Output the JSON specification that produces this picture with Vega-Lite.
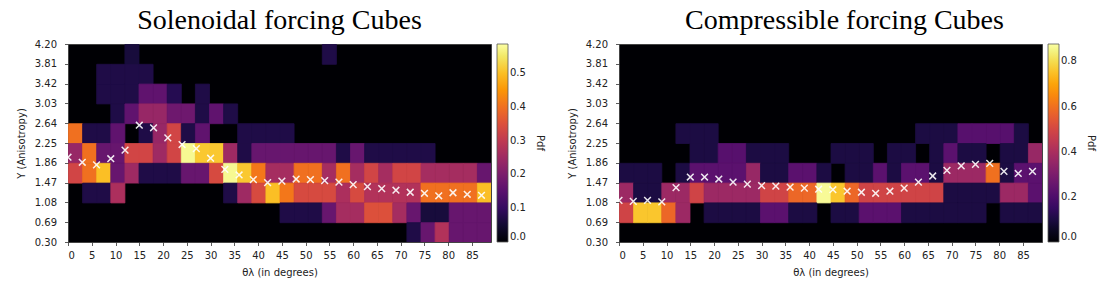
{
"$schema": "https://vega.github.io/schema/vega-lite/v6.json",
"background": "white",
"padding": {"left": 15, "top": 6, "right": 0, "bottom": 0},
"spacing": 20,
"config": {
  "view": {"fill": "#000004", "stroke": "#444", "strokeWidth": 1},
  "axis": {"labelFont": "DejaVu Sans", "labelFontSize": 10, "labelColor": "#222", "titleFont": "DejaVu Sans", "titleFontSize": 10, "titleFontWeight": "normal", "titleColor": "#222", "domain": false, "grid": false, "tickColor": "#333", "tickSize": 3.5, "tickWidth": 0.8},
  "axisX": {"labelPadding": 5, "titlePadding": 7, "labelAngle": 0},
  "axisY": {"labelPadding": 8, "titlePadding": 8},
  "legend": {"gradientLength": 198, "gradientThickness": 11, "offset": 6, "padding": 0, "labelFont": "DejaVu Sans", "labelFontSize": 10, "labelColor": "#222", "labelOffset": 9, "labelOverlap": false, "labelBaseline": "middle", "titleFont": "DejaVu Sans", "titleFontSize": 10, "titleFontWeight": "normal", "titleColor": "#222", "titleOrient": "right", "titleAngle": 270, "titleAnchor": "middle", "titlePadding": 9, "gradientStrokeColor": "#555", "gradientStrokeWidth": 0.8},
  "title": {"font": "Liberation Serif", "fontSize": 28, "fontWeight": "normal", "color": "#000", "anchor": "middle", "frame": "group", "offset": 4}
},
"resolve": {"scale": {"color": "independent", "stroke": "independent", "x": "independent", "y": "independent"}, "legend": {"color": "independent", "stroke": "independent"}},
"datasets": {
  "sol_cells": [
    {"t": 11.867, "y": 3.81, "pdf": 0.06}, {"t": 53.4, "y": 3.81, "pdf": 0.07},
    {"t": 5.933, "y": 3.42, "pdf": 0.07}, {"t": 8.9, "y": 3.42, "pdf": 0.07}, {"t": 11.867, "y": 3.42, "pdf": 0.07}, {"t": 14.833, "y": 3.42, "pdf": 0.07},
    {"t": 5.933, "y": 3.03, "pdf": 0.07}, {"t": 8.9, "y": 3.03, "pdf": 0.07}, {"t": 11.867, "y": 3.03, "pdf": 0.07}, {"t": 14.833, "y": 3.03, "pdf": 0.16}, {"t": 17.8, "y": 3.03, "pdf": 0.16}, {"t": 20.767, "y": 3.03, "pdf": 0.08}, {"t": 26.7, "y": 3.03, "pdf": 0.07},
    {"t": 8.9, "y": 2.64, "pdf": 0.07}, {"t": 11.867, "y": 2.64, "pdf": 0.16}, {"t": 14.833, "y": 2.64, "pdf": 0.24}, {"t": 17.8, "y": 2.64, "pdf": 0.24}, {"t": 20.767, "y": 2.64, "pdf": 0.18}, {"t": 23.733, "y": 2.64, "pdf": 0.18}, {"t": 26.7, "y": 2.64, "pdf": 0.07}, {"t": 29.667, "y": 2.64, "pdf": 0.16}, {"t": 32.633, "y": 2.64, "pdf": 0.07},
    {"t": 0, "y": 2.25, "pdf": 0.4}, {"t": 2.967, "y": 2.25, "pdf": 0.07}, {"t": 5.933, "y": 2.25, "pdf": 0.07}, {"t": 8.9, "y": 2.25, "pdf": 0.16}, {"t": 14.833, "y": 2.25, "pdf": 0.07}, {"t": 17.8, "y": 2.25, "pdf": 0.24}, {"t": 20.767, "y": 2.25, "pdf": 0.33}, {"t": 23.733, "y": 2.25, "pdf": 0.07}, {"t": 26.7, "y": 2.25, "pdf": 0.16}, {"t": 35.6, "y": 2.25, "pdf": 0.07}, {"t": 38.567, "y": 2.25, "pdf": 0.07}, {"t": 41.533, "y": 2.25, "pdf": 0.07}, {"t": 44.5, "y": 2.25, "pdf": 0.07},
    {"t": 0, "y": 1.86, "pdf": 0.24}, {"t": 2.967, "y": 1.86, "pdf": 0.4}, {"t": 5.933, "y": 1.86, "pdf": 0.17}, {"t": 8.9, "y": 1.86, "pdf": 0.17}, {"t": 11.867, "y": 1.86, "pdf": 0.33}, {"t": 14.833, "y": 1.86, "pdf": 0.33}, {"t": 17.8, "y": 1.86, "pdf": 0.25}, {"t": 20.767, "y": 1.86, "pdf": 0.33}, {"t": 23.733, "y": 1.86, "pdf": 0.575}, {"t": 26.7, "y": 1.86, "pdf": 0.51}, {"t": 29.667, "y": 1.86, "pdf": 0.51}, {"t": 32.633, "y": 1.86, "pdf": 0.25}, {"t": 35.6, "y": 1.86, "pdf": 0.07}, {"t": 38.567, "y": 1.86, "pdf": 0.17}, {"t": 41.533, "y": 1.86, "pdf": 0.17}, {"t": 44.5, "y": 1.86, "pdf": 0.17}, {"t": 47.467, "y": 1.86, "pdf": 0.17}, {"t": 50.433, "y": 1.86, "pdf": 0.17}, {"t": 53.4, "y": 1.86, "pdf": 0.17}, {"t": 56.367, "y": 1.86, "pdf": 0.07}, {"t": 59.333, "y": 1.86, "pdf": 0.17}, {"t": 62.3, "y": 1.86, "pdf": 0.07}, {"t": 65.267, "y": 1.86, "pdf": 0.07}, {"t": 68.233, "y": 1.86, "pdf": 0.07}, {"t": 71.2, "y": 1.86, "pdf": 0.07}, {"t": 74.167, "y": 1.86, "pdf": 0.07},
    {"t": 0, "y": 1.47, "pdf": 0.33}, {"t": 2.967, "y": 1.47, "pdf": 0.4}, {"t": 5.933, "y": 1.47, "pdf": 0.5}, {"t": 8.9, "y": 1.47, "pdf": 0.17}, {"t": 11.867, "y": 1.47, "pdf": 0.25}, {"t": 14.833, "y": 1.47, "pdf": 0.07}, {"t": 17.8, "y": 1.47, "pdf": 0.07}, {"t": 20.767, "y": 1.47, "pdf": 0.07}, {"t": 23.733, "y": 1.47, "pdf": 0.17}, {"t": 26.7, "y": 1.47, "pdf": 0.17}, {"t": 29.667, "y": 1.47, "pdf": 0.34}, {"t": 32.633, "y": 1.47, "pdf": 0.575}, {"t": 35.6, "y": 1.47, "pdf": 0.51}, {"t": 38.567, "y": 1.47, "pdf": 0.41}, {"t": 41.533, "y": 1.47, "pdf": 0.26}, {"t": 44.5, "y": 1.47, "pdf": 0.26}, {"t": 47.467, "y": 1.47, "pdf": 0.4}, {"t": 50.433, "y": 1.47, "pdf": 0.4}, {"t": 53.4, "y": 1.47, "pdf": 0.26}, {"t": 56.367, "y": 1.47, "pdf": 0.4}, {"t": 59.333, "y": 1.47, "pdf": 0.26}, {"t": 62.3, "y": 1.47, "pdf": 0.33}, {"t": 65.267, "y": 1.47, "pdf": 0.26}, {"t": 68.233, "y": 1.47, "pdf": 0.33}, {"t": 71.2, "y": 1.47, "pdf": 0.33}, {"t": 74.167, "y": 1.47, "pdf": 0.26}, {"t": 77.133, "y": 1.47, "pdf": 0.26}, {"t": 80.1, "y": 1.47, "pdf": 0.26}, {"t": 83.067, "y": 1.47, "pdf": 0.26}, {"t": 86.033, "y": 1.47, "pdf": 0.17},
    {"t": 2.967, "y": 1.08, "pdf": 0.07}, {"t": 5.933, "y": 1.08, "pdf": 0.07}, {"t": 8.9, "y": 1.08, "pdf": 0.27}, {"t": 32.633, "y": 1.08, "pdf": 0.07}, {"t": 35.6, "y": 1.08, "pdf": 0.25}, {"t": 38.567, "y": 1.08, "pdf": 0.34}, {"t": 41.533, "y": 1.08, "pdf": 0.5}, {"t": 44.5, "y": 1.08, "pdf": 0.41}, {"t": 47.467, "y": 1.08, "pdf": 0.34}, {"t": 50.433, "y": 1.08, "pdf": 0.34}, {"t": 53.4, "y": 1.08, "pdf": 0.34}, {"t": 56.367, "y": 1.08, "pdf": 0.27}, {"t": 59.333, "y": 1.08, "pdf": 0.34}, {"t": 62.3, "y": 1.08, "pdf": 0.28}, {"t": 65.267, "y": 1.08, "pdf": 0.28}, {"t": 68.233, "y": 1.08, "pdf": 0.28}, {"t": 71.2, "y": 1.08, "pdf": 0.28}, {"t": 74.167, "y": 1.08, "pdf": 0.4}, {"t": 77.133, "y": 1.08, "pdf": 0.4}, {"t": 80.1, "y": 1.08, "pdf": 0.4}, {"t": 83.067, "y": 1.08, "pdf": 0.4}, {"t": 86.033, "y": 1.08, "pdf": 0.5},
    {"t": 44.5, "y": 0.69, "pdf": 0.07}, {"t": 47.467, "y": 0.69, "pdf": 0.07}, {"t": 50.433, "y": 0.69, "pdf": 0.07}, {"t": 53.4, "y": 0.69, "pdf": 0.17}, {"t": 56.367, "y": 0.69, "pdf": 0.26}, {"t": 59.333, "y": 0.69, "pdf": 0.26}, {"t": 62.3, "y": 0.69, "pdf": 0.35}, {"t": 65.267, "y": 0.69, "pdf": 0.35}, {"t": 68.233, "y": 0.69, "pdf": 0.26}, {"t": 71.2, "y": 0.69, "pdf": 0.17}, {"t": 74.167, "y": 0.69, "pdf": 0.06}, {"t": 77.133, "y": 0.69, "pdf": 0.06}, {"t": 80.1, "y": 0.69, "pdf": 0.17}, {"t": 83.067, "y": 0.69, "pdf": 0.17}, {"t": 86.033, "y": 0.69, "pdf": 0.17},
    {"t": 71.2, "y": 0.3, "pdf": 0.07}, {"t": 74.167, "y": 0.3, "pdf": 0.17}, {"t": 77.133, "y": 0.3, "pdf": 0.28}, {"t": 80.1, "y": 0.3, "pdf": 0.17}, {"t": 83.067, "y": 0.3, "pdf": 0.17}, {"t": 86.033, "y": 0.3, "pdf": 0.17}
  ],
  "sol_mean": [
    {"theta": 0, "Y": 1.97}, {"theta": 3, "Y": 1.87}, {"theta": 6, "Y": 1.82}, {"theta": 9, "Y": 1.94}, {"theta": 12, "Y": 2.11}, {"theta": 15, "Y": 2.6}, {"theta": 18, "Y": 2.55}, {"theta": 21, "Y": 2.35}, {"theta": 24, "Y": 2.22}, {"theta": 27, "Y": 2.14}, {"theta": 30, "Y": 1.95}, {"theta": 33, "Y": 1.73}, {"theta": 36, "Y": 1.62}, {"theta": 39, "Y": 1.53}, {"theta": 42, "Y": 1.47}, {"theta": 45, "Y": 1.5}, {"theta": 48, "Y": 1.54}, {"theta": 51, "Y": 1.53}, {"theta": 54, "Y": 1.51}, {"theta": 57, "Y": 1.48}, {"theta": 60, "Y": 1.43}, {"theta": 63, "Y": 1.39}, {"theta": 66, "Y": 1.35}, {"theta": 69, "Y": 1.32}, {"theta": 72, "Y": 1.28}, {"theta": 75, "Y": 1.26}, {"theta": 78, "Y": 1.21}, {"theta": 81, "Y": 1.27}, {"theta": 84, "Y": 1.24}, {"theta": 87, "Y": 1.22}
  ],
  "comp_cells": [
    {"t": 11.867, "y": 2.25, "pdf": 0.1}, {"t": 14.833, "y": 2.25, "pdf": 0.1}, {"t": 17.8, "y": 2.25, "pdf": 0.1}, {"t": 62.3, "y": 2.25, "pdf": 0.1}, {"t": 65.267, "y": 2.25, "pdf": 0.1}, {"t": 68.233, "y": 2.25, "pdf": 0.1}, {"t": 71.2, "y": 2.25, "pdf": 0.22}, {"t": 74.167, "y": 2.25, "pdf": 0.22}, {"t": 77.133, "y": 2.25, "pdf": 0.22}, {"t": 80.1, "y": 2.25, "pdf": 0.22}, {"t": 83.067, "y": 2.25, "pdf": 0.1},
    {"t": 14.833, "y": 1.86, "pdf": 0.1}, {"t": 17.8, "y": 1.86, "pdf": 0.1}, {"t": 20.767, "y": 1.86, "pdf": 0.22}, {"t": 23.733, "y": 1.86, "pdf": 0.22}, {"t": 26.7, "y": 1.86, "pdf": 0.1}, {"t": 29.667, "y": 1.86, "pdf": 0.1}, {"t": 32.633, "y": 1.86, "pdf": 0.1}, {"t": 44.5, "y": 1.86, "pdf": 0.1}, {"t": 47.467, "y": 1.86, "pdf": 0.1}, {"t": 50.433, "y": 1.86, "pdf": 0.1}, {"t": 56.367, "y": 1.86, "pdf": 0.1}, {"t": 59.333, "y": 1.86, "pdf": 0.1}, {"t": 65.267, "y": 1.86, "pdf": 0.1}, {"t": 68.233, "y": 1.86, "pdf": 0.23}, {"t": 71.2, "y": 1.86, "pdf": 0.1}, {"t": 74.167, "y": 1.86, "pdf": 0.1}, {"t": 80.1, "y": 1.86, "pdf": 0.1}, {"t": 83.067, "y": 1.86, "pdf": 0.1}, {"t": 86.033, "y": 1.86, "pdf": 0.36},
    {"t": 0, "y": 1.47, "pdf": 0.1}, {"t": 2.967, "y": 1.47, "pdf": 0.1}, {"t": 5.933, "y": 1.47, "pdf": 0.1}, {"t": 11.867, "y": 1.47, "pdf": 0.1}, {"t": 14.833, "y": 1.47, "pdf": 0.23}, {"t": 17.8, "y": 1.47, "pdf": 0.23}, {"t": 20.767, "y": 1.47, "pdf": 0.23}, {"t": 23.733, "y": 1.47, "pdf": 0.23}, {"t": 26.7, "y": 1.47, "pdf": 0.36}, {"t": 29.667, "y": 1.47, "pdf": 0.1}, {"t": 32.633, "y": 1.47, "pdf": 0.1}, {"t": 35.6, "y": 1.47, "pdf": 0.23}, {"t": 38.567, "y": 1.47, "pdf": 0.23}, {"t": 41.533, "y": 1.47, "pdf": 0.1}, {"t": 47.467, "y": 1.47, "pdf": 0.1}, {"t": 50.433, "y": 1.47, "pdf": 0.1}, {"t": 53.4, "y": 1.47, "pdf": 0.23}, {"t": 56.367, "y": 1.47, "pdf": 0.1}, {"t": 59.333, "y": 1.47, "pdf": 0.23}, {"t": 62.3, "y": 1.47, "pdf": 0.23}, {"t": 65.267, "y": 1.47, "pdf": 0.1}, {"t": 68.233, "y": 1.47, "pdf": 0.37}, {"t": 71.2, "y": 1.47, "pdf": 0.37}, {"t": 74.167, "y": 1.47, "pdf": 0.37}, {"t": 77.133, "y": 1.47, "pdf": 0.6}, {"t": 80.1, "y": 1.47, "pdf": 0.1}, {"t": 83.067, "y": 1.47, "pdf": 0.23}, {"t": 86.033, "y": 1.47, "pdf": 0.23},
    {"t": 0, "y": 1.08, "pdf": 0.37}, {"t": 2.967, "y": 1.08, "pdf": 0.1}, {"t": 5.933, "y": 1.08, "pdf": 0.1}, {"t": 8.9, "y": 1.08, "pdf": 0.37}, {"t": 11.867, "y": 1.08, "pdf": 0.37}, {"t": 14.833, "y": 1.08, "pdf": 0.49}, {"t": 17.8, "y": 1.08, "pdf": 0.37}, {"t": 20.767, "y": 1.08, "pdf": 0.37}, {"t": 23.733, "y": 1.08, "pdf": 0.37}, {"t": 26.7, "y": 1.08, "pdf": 0.37}, {"t": 29.667, "y": 1.08, "pdf": 0.49}, {"t": 32.633, "y": 1.08, "pdf": 0.49}, {"t": 35.6, "y": 1.08, "pdf": 0.58}, {"t": 38.567, "y": 1.08, "pdf": 0.58}, {"t": 41.533, "y": 1.08, "pdf": 0.865}, {"t": 44.5, "y": 1.08, "pdf": 0.76}, {"t": 47.467, "y": 1.08, "pdf": 0.58}, {"t": 50.433, "y": 1.08, "pdf": 0.49}, {"t": 53.4, "y": 1.08, "pdf": 0.49}, {"t": 56.367, "y": 1.08, "pdf": 0.49}, {"t": 59.333, "y": 1.08, "pdf": 0.49}, {"t": 62.3, "y": 1.08, "pdf": 0.49}, {"t": 65.267, "y": 1.08, "pdf": 0.49}, {"t": 68.233, "y": 1.08, "pdf": 0.1}, {"t": 71.2, "y": 1.08, "pdf": 0.1}, {"t": 74.167, "y": 1.08, "pdf": 0.1}, {"t": 77.133, "y": 1.08, "pdf": 0.1}, {"t": 80.1, "y": 1.08, "pdf": 0.37}, {"t": 83.067, "y": 1.08, "pdf": 0.37}, {"t": 86.033, "y": 1.08, "pdf": 0.23},
    {"t": 0, "y": 0.69, "pdf": 0.49}, {"t": 2.967, "y": 0.69, "pdf": 0.76}, {"t": 5.933, "y": 0.69, "pdf": 0.76}, {"t": 8.9, "y": 0.69, "pdf": 0.58}, {"t": 11.867, "y": 0.69, "pdf": 0.37}, {"t": 17.8, "y": 0.69, "pdf": 0.1}, {"t": 20.767, "y": 0.69, "pdf": 0.1}, {"t": 23.733, "y": 0.69, "pdf": 0.1}, {"t": 26.7, "y": 0.69, "pdf": 0.1}, {"t": 29.667, "y": 0.69, "pdf": 0.23}, {"t": 32.633, "y": 0.69, "pdf": 0.23}, {"t": 35.6, "y": 0.69, "pdf": 0.1}, {"t": 38.567, "y": 0.69, "pdf": 0.1}, {"t": 44.5, "y": 0.69, "pdf": 0.1}, {"t": 47.467, "y": 0.69, "pdf": 0.1}, {"t": 50.433, "y": 0.69, "pdf": 0.23}, {"t": 53.4, "y": 0.69, "pdf": 0.23}, {"t": 56.367, "y": 0.69, "pdf": 0.23}, {"t": 59.333, "y": 0.69, "pdf": 0.1}, {"t": 62.3, "y": 0.69, "pdf": 0.1}, {"t": 65.267, "y": 0.69, "pdf": 0.1}, {"t": 68.233, "y": 0.69, "pdf": 0.1}, {"t": 71.2, "y": 0.69, "pdf": 0.1}, {"t": 74.167, "y": 0.69, "pdf": 0.1}, {"t": 80.1, "y": 0.69, "pdf": 0.1}, {"t": 83.067, "y": 0.69, "pdf": 0.1}, {"t": 86.033, "y": 0.69, "pdf": 0.1}
  ],
  "comp_mean": [
    {"theta": 0, "Y": 1.12}, {"theta": 3, "Y": 1.1}, {"theta": 6, "Y": 1.12}, {"theta": 9, "Y": 1.09}, {"theta": 12, "Y": 1.37}, {"theta": 15, "Y": 1.58}, {"theta": 18, "Y": 1.58}, {"theta": 21, "Y": 1.54}, {"theta": 24, "Y": 1.48}, {"theta": 27, "Y": 1.44}, {"theta": 30, "Y": 1.41}, {"theta": 33, "Y": 1.4}, {"theta": 36, "Y": 1.38}, {"theta": 39, "Y": 1.36}, {"theta": 42, "Y": 1.34}, {"theta": 45, "Y": 1.33}, {"theta": 48, "Y": 1.3}, {"theta": 51, "Y": 1.28}, {"theta": 54, "Y": 1.26}, {"theta": 57, "Y": 1.3}, {"theta": 60, "Y": 1.36}, {"theta": 63, "Y": 1.48}, {"theta": 66, "Y": 1.6}, {"theta": 69, "Y": 1.71}, {"theta": 72, "Y": 1.8}, {"theta": 75, "Y": 1.83}, {"theta": 78, "Y": 1.85}, {"theta": 81, "Y": 1.69}, {"theta": 84, "Y": 1.65}, {"theta": 87, "Y": 1.69}
  ]
},
"hconcat": [
  {
    "title": {"text": "Solenoidal forcing Cubes"},
    "width": 423, "height": 198,
    "layer": [
      {
        "data": {"name": "sol_cells"},
        "mark": {"type": "rect", "clip": true, "binSpacing": 0, "strokeWidth": 0.8},
        "encoding": {
          "x": {"field": "t", "type": "quantitative", "bin": {"binned": true, "step": 2.96667}, "scale": {"domain": [0, 89], "nice": false, "zero": false}, "axis": {"values": [0,5,10,15,20,25,30,35,40,45,50,55,60,65,70,75,80,85], "format": "d", "title": "θλ (in degrees)"}},
          "y": {"field": "y", "type": "quantitative", "bin": {"binned": true, "step": 0.39}, "scale": {"domain": [0.3, 4.2], "nice": false, "zero": false}, "axis": {"values": [0.3,0.69,1.08,1.47,1.86,2.25,2.64,3.03,3.42,3.81,4.2], "format": ".2f", "title": "Y (Anisotropy)"}},
          "color": {"field": "pdf", "type": "quantitative", "scale": {"scheme": "inferno", "domain": [0, 0.586]}, "legend": {"type": "gradient", "title": "Pdf", "values": [0,0.1,0.2,0.3,0.4,0.5], "format": ".1f"}},
          "stroke": {"field": "pdf", "type": "quantitative", "title": "edge", "scale": {"scheme": "inferno", "domain": [-0.0001, 0.5861]}, "legend": null}
        }
      },
      {
        "data": {"name": "sol_mean"},
        "mark": {"type": "point", "shape": "M-1,-1L1,1M1,-1L-1,1", "filled": false, "color": "white", "strokeWidth": 1.5, "size": 45, "opacity": 0.9, "clip": true},
        "encoding": {
          "x": {"field": "theta", "type": "quantitative"},
          "y": {"field": "Y", "type": "quantitative"}
        }
      }
    ]
  },
  {
    "title": {"text": "Compressible forcing Cubes", "dx": 14},
    "width": 423, "height": 198,
    "layer": [
      {
        "data": {"name": "comp_cells"},
        "mark": {"type": "rect", "clip": true, "binSpacing": 0, "strokeWidth": 0.8},
        "encoding": {
          "x": {"field": "t", "type": "quantitative", "bin": {"binned": true, "step": 2.96667}, "scale": {"domain": [0, 89], "nice": false, "zero": false}, "axis": {"values": [0,5,10,15,20,25,30,35,40,45,50,55,60,65,70,75,80,85], "format": "d", "title": "θλ (in degrees)"}},
          "y": {"field": "y", "type": "quantitative", "bin": {"binned": true, "step": 0.39}, "scale": {"domain": [0.3, 4.2], "nice": false, "zero": false}, "axis": {"values": [0.3,0.69,1.08,1.47,1.86,2.25,2.64,3.03,3.42,3.81,4.2], "format": ".2f", "title": "Y (Anisotropy)"}},
          "color": {"field": "pdf", "type": "quantitative", "scale": {"scheme": "inferno", "domain": [0, 0.877]}, "legend": {"type": "gradient", "title": "Pdf", "values": [0,0.2,0.4,0.6,0.8], "format": ".1f"}},
          "stroke": {"field": "pdf", "type": "quantitative", "title": "edge", "scale": {"scheme": "inferno", "domain": [-0.0001, 0.8771]}, "legend": null}
        }
      },
      {
        "data": {"name": "comp_mean"},
        "mark": {"type": "point", "shape": "M-1,-1L1,1M1,-1L-1,1", "filled": false, "color": "white", "strokeWidth": 1.5, "size": 45, "opacity": 0.9, "clip": true},
        "encoding": {
          "x": {"field": "theta", "type": "quantitative"},
          "y": {"field": "Y", "type": "quantitative"}
        }
      }
    ]
  }
]
}
